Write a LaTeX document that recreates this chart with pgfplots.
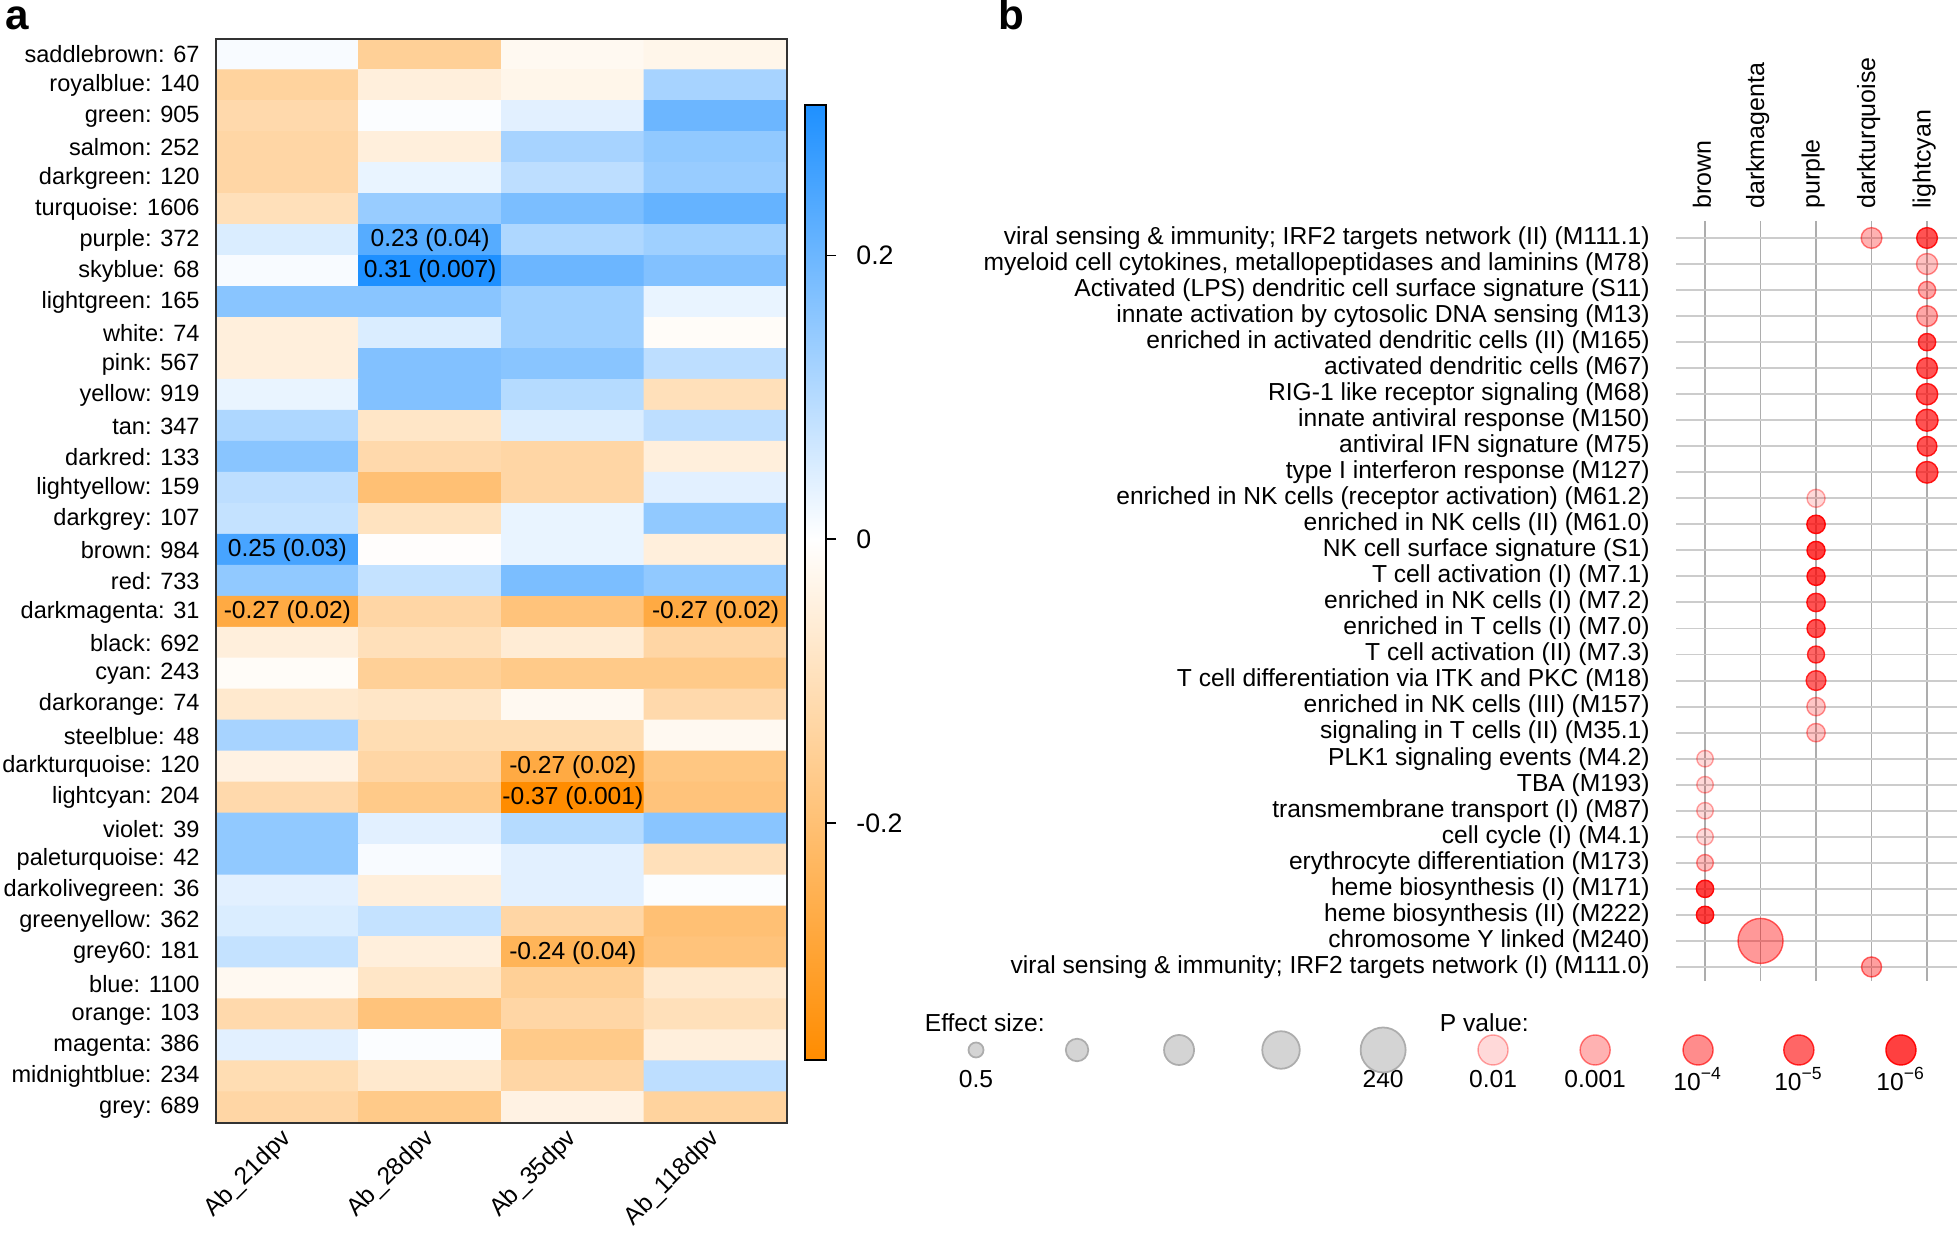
\documentclass[border=0pt]{standalone}
\usepackage{fontspec}
\setmainfont{Liberation Sans}
\usepackage{pgfplots}
\usepackage{pgfplotstable}
\pgfplotsset{compat=1.18}

% module x timepoint correlations (row 0 = top)
\pgfplotstableread{
x y v
0 0 0.01
1 0 -0.15
2 0 -0.02
3 0 -0.03
0 1 -0.14
1 1 -0.05
2 1 -0.03
3 1 0.12
0 2 -0.12
1 2 0.005
2 2 0.04
3 2 0.20
0 3 -0.13
1 3 -0.05
2 3 0.12
3 3 0.15
0 4 -0.13
1 4 0.03
2 4 0.09
3 4 0.14
0 5 -0.10
1 5 0.14
2 5 0.18
3 5 0.21
0 6 0.05
1 6 0.23
2 6 0.11
3 6 0.13
0 7 0.01
1 7 0.31
2 7 0.20
3 7 0.17
0 8 0.16
1 8 0.16
2 8 0.13
3 8 0.03
0 9 -0.05
1 9 0.05
2 9 0.13
3 9 -0.01
0 10 -0.05
1 10 0.17
2 10 0.16
3 10 0.09
0 11 0.03
1 11 0.17
2 11 0.10
3 11 -0.10
0 12 0.11
1 12 -0.08
2 12 0.05
3 12 0.09
0 13 0.16
1 13 -0.12
2 13 -0.13
3 13 -0.05
0 14 0.09
1 14 -0.20
2 14 -0.13
3 14 0.04
0 15 0.08
1 15 -0.09
2 15 0.03
3 15 0.15
0 16 0.25
1 16 -0.005
2 16 0.03
3 16 -0.05
0 17 0.15
1 17 0.08
2 17 0.18
3 17 0.15
0 18 -0.27
1 18 -0.13
2 18 -0.19
3 18 -0.27
0 19 -0.05
1 19 -0.10
2 19 -0.06
3 19 -0.13
0 20 -0.01
1 20 -0.15
2 20 -0.17
3 20 -0.17
0 21 -0.07
1 21 -0.08
2 21 -0.02
3 21 -0.12
0 22 0.12
1 22 -0.11
2 22 -0.11
3 22 -0.02
0 23 -0.04
1 23 -0.13
2 23 -0.27
3 23 -0.18
0 24 -0.12
1 24 -0.17
2 24 -0.37
3 24 -0.19
0 25 0.15
1 25 0.04
2 25 0.10
3 25 0.16
0 26 0.15
1 26 0.01
2 26 0.04
3 26 -0.10
0 27 0.04
1 27 -0.05
2 27 0.04
3 27 0.005
0 28 0.05
1 28 0.08
2 28 -0.13
3 28 -0.20
0 29 0.08
1 29 -0.05
2 29 -0.24
3 29 -0.19
0 30 -0.02
1 30 -0.08
2 30 -0.15
3 30 -0.07
0 31 -0.12
1 31 -0.19
2 31 -0.13
3 31 -0.10
0 32 0.04
1 32 0.005
2 32 -0.17
3 32 -0.05
0 33 -0.11
1 33 -0.07
2 33 -0.13
3 33 0.09
0 34 -0.13
1 34 -0.17
2 34 -0.04
3 34 -0.14
}\heattab

% enrichment: col (module), row (gene set), effect size, -log10(p)
\pgfplotstableread{
col row es lp
4 1 1.62 3
5 1 1.62 5.5
5 2 1.75 2.6
5 3 0.80 3.3
5 4 1.62 3.3
5 5 0.80 5.5
5 6 1.62 5.5
5 7 1.83 5.5
5 8 2.10 5.5
5 9 1.30 5.5
5 10 1.96 5.5
3 11 0.93 2
3 12 1.00 6
3 13 0.93 6
3 14 0.93 6
3 15 1.00 5.5
3 16 0.93 5.5
3 17 0.75 5
3 18 1.32 5
3 19 1.00 2.5
3 20 1.00 2.5
1 21 0.68 2
1 22 0.68 2
1 23 0.68 2
1 24 0.68 2
1 25 0.70 2.7
1 26 0.80 6
1 27 0.80 6
2 28 240 3.7
4 29 1.40 3.5
}\modtab

\pgfplotsset{
  dotsize/.style={
    scatter, only marks, mark=*,
    visualization depends on={(15+30*(ln(\thisrow{es})+0.6931)/6.1738)*0.1423 \as \rad}
  },
  reddots/.style={
    dotsize,
    visualization depends on={0.15*\thisrow{lp}-0.15 \as \op},
    visualization depends on={min(1,0.15*\thisrow{lp}+0.05) \as \dop},
    scatter/@pre marker code/.code={\scope[mark size=\rad pt, fill=red, draw=red, fill opacity=\op, draw opacity=\dop, line width=0.4pt]},
    scatter/@post marker code/.code={\endscope}
  },
  graydots/.style={
    dotsize,
    scatter/@pre marker code/.code={\scope[mark size=\rad pt, fill=black!17, draw=black!32, line width=0.5pt]},
    scatter/@post marker code/.code={\endscope}
  }
}

\begin{document}
\begin{tikzpicture}
\path[use as bounding box] (0,0) rectangle (19.57cm,12.36cm);
\node[anchor=base west, inner sep=0, font=\fontsize{12}{12}\selectfont\bfseries] at (0.05cm,12.06cm) {a};
\node[anchor=base west, inner sep=0, font=\fontsize{12}{12}\selectfont\bfseries] at (9.98cm,12.06cm) {b};

\begin{axis}[
  at={(2.16cm,1.13cm)}, anchor=south west,
  scale only axis, width=5.71cm, height=10.84cm,
  xmin=-0.5, xmax=3.5, ymin=-0.5, ymax=34.5,
  y dir=reverse, enlargelimits=false, axis on top,
  axis line style={black!80, line width=0.5pt},
  major tick length=0,
  xtick={0,...,3},
  xticklabels={Ab\_21dpv,Ab\_28dpv,Ab\_35dpv,Ab\_118dpv},
  xticklabel style={xshift=-0.08cm, yshift=0.02cm, rotate=45, anchor=north east, inner sep=1pt, font=\fontsize{7}{8}\selectfont},
  ytick={0,...,34},
  yticklabels={saddlebrown: 67,royalblue: 140,green: 905,salmon: 252,darkgreen: 120,turquoise: 1606,purple: 372,skyblue: 68,lightgreen: 165,white: 74,pink: 567,yellow: 919,tan: 347,darkred: 133,lightyellow: 159,darkgrey: 107,brown: 984,red: 733,darkmagenta: 31,black: 692,cyan: 243,darkorange: 74,steelblue: 48,darkturquoise: 120,lightcyan: 204,violet: 39,paleturquoise: 42,darkolivegreen: 36,greenyellow: 362,grey60: 181,blue: 1100,orange: 103,magenta: 386,midnightblue: 234,grey: 689},
  yticklabel style={font=\fontsize{6.7}{8}\selectfont, xshift=-0.04cm},
  colormap={bo}{rgb255(0pt)=(255,140,0); rgb255(367pt)=(255,255,255); rgb255(673pt)=(30,144,255)},
  point meta min=-0.367, point meta max=0.306,
  colorbar,
  colorbar style={
    at={(parent axis.east)}, anchor=west, xshift=-0.12cm, yshift=-0.015cm,
    width=0.21cm, height=9.55cm,
    ytick={-0.2,0,0.2}, yticklabels={-0.2,0,0.2},
    major tick length=0.1cm, tick align=outside,
    ytick pos=right, yticklabel pos=right,
    yticklabel style={font=\fontsize{7.6}{9}\selectfont, xshift=0.08cm},
    axis line style={black, line width=0.6pt},
    ytick style={black, line width=0.5pt}
  }
]
\addplot[matrix plot*, mesh/cols=4, point meta=explicit] table[x=x, y=y, meta=v] {\heattab};
\begin{scope}[every node/.style={font=\fontsize{7}{8}\selectfont}]
\node at (axis cs:1,6) {0.23 (0.04)};
\node at (axis cs:1,7) {0.31 (0.007)};
\node at (axis cs:0,16) {0.25 (0.03)};
\node at (axis cs:0,18) {-0.27 (0.02)};
\node at (axis cs:3,18) {-0.27 (0.02)};
\node at (axis cs:2,23) {-0.27 (0.02)};
\node at (axis cs:2,24) {-0.37 (0.001)};
\node at (axis cs:2,29) {-0.24 (0.04)};
\end{scope}
\end{axis}

\begin{axis}[
  at={(16.76cm,2.55cm)}, anchor=south west,
  scale only axis, width=2.81cm, height=7.60cm,
  xmin=0.477, xmax=5.54, ymin=0.347, ymax=29.54,
  y dir=reverse, clip=false,
  axis line style={draw=none},
  major tick length=0,
  xtick={1,...,5},
  xticklabels={brown,darkmagenta,purple,darkturquoise,lightcyan},
  xticklabel pos=top,
  xticklabel style={rotate=90, anchor=west, font=\fontsize{7.1}{8}\selectfont, yshift=0.03cm},
  ytick={1,...,29},
  yticklabels={
    viral sensing \& immunity; IRF2 targets network (II) (M111.1),
    {myeloid cell cytokines, metallopeptidases and laminins (M78)},
    Activated (LPS) dendritic cell surface signature (S11),
    innate activation by cytosolic DNA sensing (M13),
    enriched in activated dendritic cells (II) (M165),
    activated dendritic cells (M67),
    RIG-1 like receptor signaling (M68),
    innate antiviral response (M150),
    antiviral IFN signature (M75),
    type I interferon response (M127),
    enriched in NK cells (receptor activation) (M61.2),
    enriched in NK cells (II) (M61.0),
    NK cell surface signature (S1),
    T cell activation (I) (M7.1),
    enriched in NK cells (I) (M7.2),
    enriched in T cells (I) (M7.0),
    T cell activation (II) (M7.3),
    T cell differentiation via ITK and PKC (M18),
    enriched in NK cells (III) (M157),
    signaling in T cells (II) (M35.1),
    PLK1 signaling events (M4.2),
    TBA (M193),
    transmembrane transport (I) (M87),
    cell cycle (I) (M4.1),
    erythrocyte differentiation (M173),
    heme biosynthesis (I) (M171),
    heme biosynthesis (II) (M222),
    chromosome Y linked (M240),
    viral sensing \& immunity; IRF2 targets network (I) (M111.0)},
  yticklabel style={font=\fontsize{7}{8}\selectfont, xshift=-0.14cm},
  xmajorgrids, ymajorgrids,
  x grid style={black!32, line width=0.4pt},
  y grid style={black!20, line width=0.55pt}
]
\addplot[reddots] table[x=col, y=row] {\modtab};

% legend: effect size
\addplot[graydots] table {
x y es
-12.135 32.19 0.5
-10.315 32.19 2.34
-8.477 32.19 10.95
-6.64 32.19 51.3
-4.80 32.19 240
};
% legend: p value
\addplot[reddots] table {
x y es lp
-2.82 32.19 10.95 2
-0.98 32.19 10.95 3
0.874 32.19 10.95 4
2.69 32.19 10.95 5
4.53 32.19 10.95 6
};
\begin{scope}[every node/.style={font=\fontsize{7}{8}\selectfont}]
\node[anchor=west, inner sep=0] at (axis cs:-13.07,31.15) {Effect size:};
\node[anchor=west, inner sep=0] at (axis cs:-3.79,31.15) {P value:};
\node at (axis cs:-12.135,33.3) {0.5};
\node at (axis cs:-4.80,33.3) {240};
\node at (axis cs:-2.82,33.3) {0.01};
\node at (axis cs:-0.98,33.3) {0.001};
\node at (axis cs:0.874,33.3) {10\textsuperscript{\char"2212 4}};
\node at (axis cs:2.69,33.3) {10\textsuperscript{\char"2212 5}};
\node at (axis cs:4.53,33.3) {10\textsuperscript{\char"2212 6}};
\end{scope}
\end{axis}
\end{tikzpicture}
\end{document}
